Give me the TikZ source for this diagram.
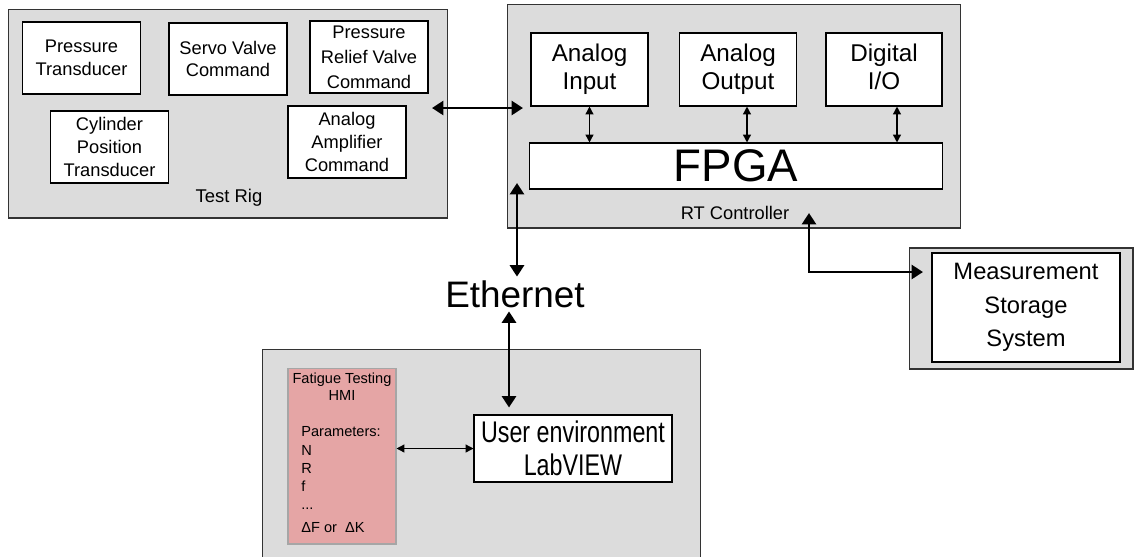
\documentclass[tikz,border=0pt]{standalone}
\usepackage{fontspec}
\setmainfont{Liberation Sans}
\newfontfamily\narrowfont[FakeStretch=0.78]{Liberation Sans}
\usetikzlibrary{arrows.meta}
\definecolor{bggrey}{RGB}{220,220,220}
\definecolor{hmipink}{RGB}{229,165,165}
\begin{document}
\begin{tikzpicture}[x=0.02cm,y=-0.02cm,
        panel/.style={draw=black!80,fill=bggrey,line width=0.6pt,inner sep=0pt},
        block/.style={draw=black,fill=white,line width=0.6pt,align=center,inner sep=0pt,font=\fontsize{10.4}{13}\selectfont},
        smallblock/.style={block,minimum width=2.36cm,minimum height=1.44cm},
        ioblock/.style={block,minimum width=2.34cm,minimum height=1.46cm,font=\fontsize{13.8}{16}\selectfont},
        biglink/.style={{Triangle[length=6.5pt,width=8pt]}-{Triangle[length=6.5pt,width=8pt]},line width=1.5pt},
        smalllink/.style={{Triangle[length=4.5pt,width=4.5pt]}-{Triangle[length=4.5pt,width=4.5pt]},line width=0.8pt}]
        \useasboundingbox (0,0) rectangle (1134,556);
        % Banco prova
        \node[panel,minimum width=8.8cm,minimum height=4.18cm] (rig) at (228,113.5) {};
        \node[font=\fontsize{10.5}{12}\selectfont] (riglabel) at (229,198) {Test Rig};
        \node[smallblock] (prtr) at (81.5,58) {Pressure\\Transducer};
        \node[smallblock] (svcmd) at (228,59) {Servo Valve\\Command};
        \node[smallblock,font=\fontsize{10.4}{14.3}\selectfont] (prvcmd) at (369,57) {Pressure\\Relief Valve\\Command};
        \node[smallblock] (cyltr) at (109.5,147) {Cylinder\\Position\\Transducer};
        \node[smallblock] (ampcmd) at (347,142) {Analog\\Amplifier\\Command};
        % Controllore RT
        \node[panel,minimum width=9.08cm,minimum height=4.48cm] (rt) at (734,116) {};
        \node[font=\fontsize{10.4}{12}\selectfont] (rtlabel) at (735,213) {RT Controller};
        \node[ioblock] (ain) at (589.5,69.5) {\strut Analog\\Input\strut};
        \node[ioblock] (aout) at (738,69.5) {\strut Analog\\Output\strut};
        \node[ioblock,minimum width=2.32cm] (dio) at (884,69.5) {\strut Digital\\I/O\strut};
        \node[block,minimum width=8.28cm,minimum height=0.92cm,font=\fontsize{26}{28}\selectfont] (fpga) at (736,166) {FPGA};
        % Archivio misure
        \node[panel,minimum width=4.48cm,minimum height=2.42cm] (store) at (1021,308.5) {};
        \node[block,minimum width=3.76cm,minimum height=2.18cm,font=\fontsize{13.5}{19}\selectfont] (storein) at (1026,307.5) {Measurement\\Storage\\System};
        % Rete
        \node[font=\fontsize{21}{24}\selectfont,inner sep=2pt] (eth) at (515,294) {Ethernet};
        % Postazione utente
        \node[panel,minimum width=8.78cm,minimum height=4.26cm] (hmiarea) at (481.5,455.5) {};
        \node[draw=black!35,fill=hmipink,line width=0.6pt,minimum width=2.16cm,minimum height=3.52cm] (hmi) at (342,456) {};
        \node[anchor=north,align=center,inner sep=0pt,font=\fontsize{8.3}{9.6}\selectfont] (hmititle) at (342,373) {Fatigue Testing\\HMI};
        \node[anchor=north west,align=left,inner sep=0pt,font=\fontsize{8.3}{10.4}\selectfont] (hmipar) at (301,426.5) {Parameters:\\N\\R\\f\\...\\[2.5pt]ΔF or\ \ ΔK};
        \node[block,minimum width=3.96cm,minimum height=1.34cm,font=\narrowfont\fontsize{17}{18.7}\selectfont] (labview) at (573,448.5) {User environment\\LabVIEW};
        % Collegamenti
        \coordinate (rigport) at (432,108);
        \coordinate (rtport) at (523,108);
        \draw[biglink] (rigport) -- (rtport);
        \coordinate (rtbottom) at (517,183);
        \draw[biglink] (eth.north -| rtbottom) -- (rtbottom);
        \coordinate (uetop) at ([xshift=-1.28cm]labview.north);
        \draw[biglink,shorten >=0.14cm] (eth.south -| uetop) -- (uetop);
        \coordinate (rttap) at (809,213);
        \coordinate (storeport) at (923,272);
        \draw[biglink] (rttap) |- (storeport);
        \draw[smalllink] (ain.south) -- (ain.south |- fpga.north);
        \coordinate (aoutbot) at ([xshift=0.18cm]aout.south);
        \draw[smalllink] (aoutbot) -- (aoutbot |- fpga.north);
        \coordinate (diobot) at ([xshift=0.26cm]dio.south);
        \draw[smalllink] (diobot) -- (diobot |- fpga.north);
        \draw[smalllink] (labview.west -| hmi.east) -- (labview.west);
    \end{tikzpicture}
\end{document}
